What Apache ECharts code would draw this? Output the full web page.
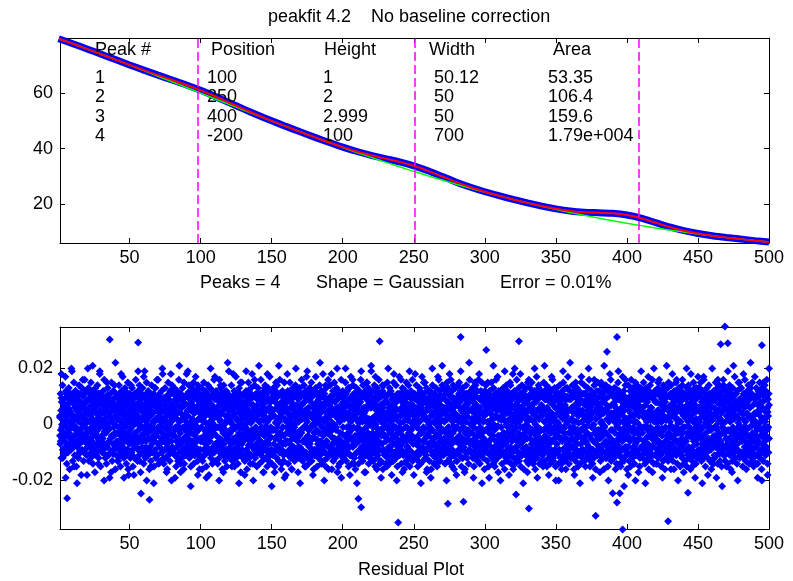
<!DOCTYPE html>
<html><head><meta charset="utf-8">
<script src="https://cdn.jsdelivr.net/npm/echarts@6/dist/echarts.min.js"></script>
<style>html,body{margin:0;padding:0;background:#fff}#c{width:793px;height:581px}</style>
</head><body><div id="c"></div>
<script>
// ---------- data ----------
const signalX = [0,10,20,30,40,50,60,70,80,90,100,110,120,130,140,150,160,170,180,190,200,210,220,230,240,250,260,270,280,290,300,310,320,330,340,350,360,370,380,390,400,410,420,430,440,450,460,470,480,490,500];
const signalY = [79.75,77.92,76.05,74.13,72.20,70.27,68.38,66.57,64.81,63.03,61.09,58.95,56.66,54.37,52.16,50.06,48.05,46.09,44.17,42.33,40.57,38.97,37.60,36.40,35.23,33.80,31.99,29.93,27.89,26.04,24.43,22.99,21.65,20.40,19.25,18.25,17.47,17.02,16.83,16.64,16.04,14.87,13.29,11.69,10.36,9.35,8.55,7.89,7.31,6.76,6.25];
const fitY = signalY;
const baselineY = [79.75,77.92,76.05,74.13,72.18,70.21,68.21,66.20,64.17,62.13,60.09,58.05,56.02,54.00,51.99,50.00,48.03,46.09,44.17,42.29,40.44,38.63,36.86,35.12,33.44,31.80,30.20,28.65,27.15,25.70,24.30,22.95,21.65,20.40,19.20,18.06,16.96,15.91,14.90,13.95,13.04,12.18,11.36,10.58,9.85,9.16,8.50,7.89,7.31,6.76,6.25];
const peakLinesX = [98, 250.5, 408];
const titleText = 'peakfit 4.2    No baseline correction';
const tableHeader = ['Peak #','Position','Height','Width','Area'];
const tableRows = [
  ['1','100','1','50.12','53.35'],
  ['2','250','2','50','106.4'],
  ['3','400','2.999','50','159.6'],
  ['4','-200','100','700','1.79e+004']
];
const fitInfo = ['Peaks = 4','Shape = Gaussian','Error = 0.01%'];
const residualLabel = 'Residual Plot';
// residuals, in units of 0.001
const residualCore = [
3,-7,11,-2,5,-12,8,0,-5,14,-9,2,6,-3,-11,9,1,-6,4,17,-8,12,-1,7,-14,3,10,-4,-10,6,-2,13,-7,5,-16,1,8,-5,11,-9,4,-1,19,-6,2,-13,9,0,-8,15,
-4,7,-11,2,12,-6,-1,9,-15,5,3,-8,10,-3,6,-12,1,14,-7,4,-2,11,-10,8,-5,-18,3,13,-9,0,6,-4,10,-13,2,7,-6,16,-1,-9,5,12,-3,8,-11,1,-7,4,20,-5,
9,-2,-13,6,1,-8,11,-5,3,15,-10,7,-1,-6,12,2,-14,8,-4,5,10,-9,0,-17,6,13,-3,4,-11,9,-7,1,14,-2,-5,7,-12,3,11,-8,18,-1,5,-15,2,-6,10,-4,8,-10,
1,-5,12,-9,4,-1,16,-7,8,2,-12,6,-3,10,-14,5,0,-8,13,-2,7,-11,3,-6,9,-19,4,11,-5,1,-10,15,-4,6,-13,2,8,-7,12,-1,-9,5,14,-3,0,-16,7,3,-11,10,
-6,10,2,-13,7,-3,5,-9,14,-1,11,-7,4,-15,8,1,-4,12,-10,6,-2,17,-8,3,9,-12,0,5,-6,13,-1,-11,7,2,-14,10,-5,4,-9,15,-3,8,-18,1,6,-7,11,-2,-12,3,
8,-1,-10,5,13,-6,2,-15,9,-4,7,0,-12,11,-3,4,-8,16,-7,1,10,-5,6,-13,3,12,-9,-2,8,-11,14,-6,1,5,-17,9,-4,2,11,-8,-1,13,-10,6,3,-14,7,-5,19,-3,
4,-12,9,-6,1,15,-3,-9,7,2,-11,12,-5,8,-1,-16,6,3,-8,10,-13,5,-2,14,-7,0,9,-10,4,-4,11,-15,7,1,-6,13,-9,2,-12,8,6,-3,16,-11,5,-1,-7,10,-14,3,
-2,11,-8,4,-13,7,1,-5,12,-10,6,-3,18,-6,2,9,-14,5,-1,-9,13,-4,8,-12,3,10,-7,1,-16,6,-2,15,-11,4,9,-6,0,-13,12,-3,7,-10,5,-20,2,14,-8,6,-4,11,
6,-9,3,13,-4,-11,8,-1,5,-15,10,-6,2,12,-8,4,-13,7,-2,16,-5,1,-10,9,-3,-17,11,4,-7,6,-12,2,13,-1,-9,8,-5,15,-14,3,7,-2,-11,10,-6,1,18,-4,-8,5,
-10,3,7,-5,14,-2,-12,9,0,-7,11,-15,5,-3,8,-9,13,2,-6,10,-1,-14,6,4,-11,12,-4,-8,17,-3,1,-10,9,-6,5,-13,14,-2,7,-9,2,11,-16,4,-5,8,-12,6,-1,13,
2,-6,10,-13,5,1,-9,15,-4,7,-11,3,12,-7,-2,9,-15,6,-5,11,0,-10,14,-3,4,-18,8,-6,1,13,-9,5,-12,10,-1,7,-4,-14,12,2,-8,6,-3,16,-10,4,9,-7,-1,-13,
12,-4,-8,6,-1,11,-14,3,9,-6,2,-12,16,-5,7,-10,1,13,-8,4,-2,10,-16,5,8,-3,-11,14,-7,0,6,-13,9,-2,3,-9,12,-5,-15,7,1,-4,11,-10,5,19,-6,2,-12,8,
-3,9,-11,1,14,-7,5,-2,-13,10,-5,7,-9,3,12,-15,4,-1,8,-10,17,-6,2,-8,11,-4,6,-14,9,1,-7,13,-3,-11,5,10,-1,-17,7,-5,3,15,-9,0,8,-12,4,-6,11,-2,
7,-13,4,10,-5,-1,12,-9,6,-16,2,8,-4,-10,15,-3,5,-12,11,-7,1,9,-6,13,-11,3,-2,18,-8,4,-14,7,-5,10,2,-9,14,-3,-12,6,-1,11,-7,4,-15,9,3,-10,13,-4,
-8,5,1,-14,9,-3,11,-6,16,-11,4,-1,7,-13,10,2,-8,6,-17,12,-4,3,-9,14,-2,-12,8,5,-6,11,-15,1,9,-3,13,-10,6,-7,2,17,-5,-11,8,-1,4,-9,12,-14,3,10,
5,-11,13,-2,-7,9,3,-15,8,-5,12,-9,1,6,-12,14,-4,-1,10,-8,5,-13,7,2,-10,16,-6,3,-3,11,-16,8,-9,4,12,-1,-7,10,-13,5,-4,15,-10,2,8,-6,-18,11,1,-3,
-1,8,-6,12,-14,4,-3,10,-9,2,15,-7,6,-12,1,9,-4,-16,11,-2,7,-10,13,3,-8,5,-1,-13,10,-5,14,-11,2,7,-3,-9,12,-6,4,-17,9,1,-12,6,-4,13,-8,3,-2,11,
10,-3,-9,7,2,-13,11,-6,4,-11,14,-1,8,-15,5,-5,12,-10,3,17,-7,1,-12,9,-4,6,-14,11,-2,-8,13,4,-6,-10,8,-1,15,-13,3,-5,10,-9,6,2,-16,12,-3,7,-11,0,
-5,13,-10,3,-2,8,-15,6,11,-7,1,-12,9,4,-8,14,-3,-11,7,2,-6,12,-14,5,-1,10,-9,18,-4,-13,6,-7,11,1,-10,8,-2,-15,13,-6,4,9,-12,2,-3,16,-8,5,-11,7,
3,-8,14,-4,9,-11,1,6,-16,10,-2,-7,12,-13,5,0,-9,15,-5,8,-12,3,11,-6,-1,13,-10,4,-17,9,2,-5,12,-8,6,-14,1,10,-3,-11,7,16,-6,3,-9,11,-13,5,-1,8,
-12,6,2,-9,11,-4,15,-7,3,-13,8,-1,-6,12,-10,4,9,-15,2,-3,13,-8,6,-11,1,17,-5,-2,10,-14,7,3,-8,14,-6,-1,11,-12,5,9,-4,-16,8,-7,2,13,-10,4,-5,12,
9,-1,-14,5,-6,12,-10,2,8,-3,16,-12,4,-8,11,-5,1,-13,14,-2,6,-9,10,-17,3,-4,12,-7,5,-11,9,-1,15,-6,-10,7,-3,13,-14,2,8,-5,-12,11,0,-8,6,19,-4,-9,
-7,12,-3,8,-13,1,6,-10,14,-5,3,-15,10,-1,-8,7,-12,5,13,-4,-11,9,2,-6,16,-9,4,-14,11,-2,7,-13,1,10,-7,5,-3,12,-16,6,-1,-9,14,3,-11,8,-4,10,-14,2,
4,-10,8,-5,15,-12,3,-1,11,-8,6,-14,13,-3,1,-9,12,-6,5,-18,9,-2,-11,7,4,-13,15,-7,2,-4,10,-10,6,-1,14,-12,8,-5,3,-15,11,-3,-8,9,1,-6,17,-11,5,-2,
-9,3,11,-14,6,-2,-7,13,-4,9,-11,1,7,-16,12,-5,4,-10,8,2,-13,15,-6,-1,10,-8,3,-12,14,-3,5,-9,11,-15,7,1,-6,12,-2,-10,9,-4,16,-13,4,-7,10,3,-11,6,
11,-5,2,-12,9,-7,14,-1,-10,6,3,-15,10,-4,8,-11,1,13,-6,-2,12,-14,5,-9,7,-3,17,-8,4,-13,9,-1,-6,11,-10,3,15,-5,-12,8,2,-9,13,-4,-16,6,1,-7,12,-3,
-4,8,-13,5,-1,12,-8,3,-16,10,-6,7,-2,14,-11,4,-5,9,-14,1,11,-7,6,-3,-12,13,-9,2,8,-15,5,-4,10,-1,-8,16,-10,3,-6,12,-13,7,1,-5,9,-11,4,14,-2,-9,
6,-2,-11,13,-5,1,9,-14,4,-8,12,-3,6,-10,15,-6,2,-13,8,-1,-9,11,-4,18,-12,5,-7,10,3,-14,7,-5,12,-9,1,-3,14,-11,6,-16,9,-2,4,-10,13,-6,2,-13,8,-1,
-13,7,3,-6,10,-9,1,15,-4,-11,8,-2,12,-7,5,-15,9,2,-5,13,-12,4,-1,10,-8,6,-17,11,-3,7,-10,1,14,-6,3,-12,9,-4,-2,11,-14,5,8,-9,16,-3,-7,12,0,-10,
2,10,-7,-3,13,-12,6,-1,9,-15,4,-5,11,-9,1,14,-6,-10,7,3,-13,12,-2,5,-8,16,-11,2,-4,9,-14,6,-1,12,-7,4,-10,15,-3,-6,8,-12,1,11,-5,3,-16,10,-8,5,
-6,14,-2,8,-10,4,-13,11,1,-7,6,-15,9,-3,12,-1,-11,7,4,-8,15,-5,2,-12,10,-4,6,-14,13,0,-9,8,-2,-13,11,3,-6,16,-10,5,-1,9,-12,7,-4,-17,12,2,-8,6,
8,-4,5,-11,12,-1,-8,10,-14,3,7,-6,13,-10,2,-3,11,-16,6,9,-7,1,-12,14,-5,4,-9,12,-1,-13,8,5,-4,10,-11,2,15,-8,-3,7,-14,11,1,-6,9,-10,18,-5,3,-12,
-2,-9,12,4,-14,7,-5,10,-1,-12,16,-6,3,8,-10,5,-3,13,-13,1,9,-7,11,-4,-15,6,2,-8,14,-11,4,-1,10,-6,7,-16,12,-3,5,-9,13,-2,-11,8,3,-13,10,-5,1,15,
5,-14,9,-1,7,-10,13,-5,2,-12,11,-3,-7,15,-9,6,-2,10,-13,4,1,-11,12,-6,8,-16,3,-4,11,-8,17,-12,5,-1,-10,9,-3,14,-7,2,-14,6,10,-5,-9,12,-2,7,-13,3,
-11,4,-6,10,-2,15,-9,1,12,-13,5,-4,9,-8,14,-1,-15,6,3,-10,11,-5,2,-12,13,-7,8,1,-14,10,-3,-9,12,-6,4,-11,16,-2,7,-13,1,9,-5,13,-10,-1,6,-15,11,-4,
13,-7,1,-10,6,-4,11,-14,8,-2,-9,14,-5,3,-12,10,-1,7,-16,5,-6,12,-9,2,15,-11,4,-3,9,-13,7,-1,-8,13,-5,3,-12,10,-7,1,17,-10,5,-3,-14,9,-6,12,-1,-8,
-3,9,-12,6,2,-8,14,-5,-11,10,-1,4,-16,12,-6,7,-3,-13,11,1,-9,5,13,-7,-2,10,-15,3,8,-10,12,-4,5,-14,9,-2,-7,15,-11,4,1,-12,8,-5,11,-9,3,-1,14,-13,
7,-1,-15,11,-6,3,9,-12,5,-3,13,-10,1,8,-8,16,-4,-11,6,2,-13,10,-5,12,-1,-9,7,-14,4,11,-6,0,-12,14,-3,8,-10,5,-16,9,2,-7,12,-4,-11,6,15,-2,-9,4,
-8,12,3,-5,10,-13,6,-2,15,-9,1,-12,8,-4,11,-7,4,-16,13,-1,5,-10,9,-6,14,-3,-12,7,2,-8,12,-15,6,-4,10,1,-11,13,-6,3,-9,16,-2,-13,7,4,-7,11,-10,2,
4,-6,11,-12,1,8,-3,13,-10,6,-7,2,-14,10,-1,5,-9,15,-5,3,-11,12,-4,-8,9,1,-15,11,-2,6,-12,8,-6,17,-9,3,-3,12,-13,5,10,-1,-8,14,-5,-11,7,2,-16,9,
-10,2,-4,14,-8,5,-13,9,1,-6,12,-15,4,-2,10,-10,7,3,-12,13,-5,-1,11,-9,6,-14,8,-3,15,-7,1,-11,10,4,-6,12,-2,-9,7,-17,11,3,-5,9,-12,6,-1,13,-8,5,
12,-8,6,-3,-12,9,-1,15,-6,4,-10,11,-14,2,7,-5,13,-9,1,-13,8,-2,10,-7,3,-16,12,-4,5,-10,14,-1,-8,6,-13,10,-5,2,16,-11,4,-3,9,-14,1,-7,12,-6,8,-2,
-5,11,-14,3,8,-9,5,-1,13,-12,2,-6,16,-8,4,-3,10,-11,7,-15,12,1,-4,9,-10,5,-13,14,-2,3,-7,11,-16,8,-1,6,-12,10,-4,2,-9,13,-6,5,-11,15,-3,-8,10,-1,
1,-12,7,-4,14,-10,3,-7,11,-1,-13,9,-5,6,-16,12,-2,8,-9,4,-1,15,-11,6,-6,10,-14,2,9,-3,-10,13,-7,5,-2,11,-15,7,1,-8,12,-5,4,-12,16,-3,9,-9,3,-14,
-9,6,-1,11,-13,4,9,-6,2,-15,13,-3,7,-10,1,14,-8,5,-12,10,-4,3,-16,12,-2,8,-9,6,-13,11,-5,1,-11,15,-6,4,-3,13,-10,7,-1,-14,9,2,-7,12,-12,5,-4,17,
6,-3,13,-9,1,-11,10,-5,15,-2,4,-13,8,-7,12,-1,-10,6,-4,16,-12,3,9,-8,2,-15,11,-3,5,-10,13,-6,7,-1,-12,9,-5,14,-9,1,10,-13,4,-6,11,-2,-16,8,3,-7,
-14,9,2,-7,12,-4,6,-12,10,-1,-8,15,-5,3,-11,8,-2,13,-14,5,-6,11,1,-9,14,-4,7,-13,2,10,-7,4,-15,12,-1,-10,8,-3,16,-11,5,-2,13,-8,6,-13,1,9,-5,12,
3,-7,10,-14,5,-2,12,-9,6,-5,14,-11,1,9,-16,7,-3,11,-8,4,-13,13,-1,-6,10,-10,5,-4,17,-12,8,-2,-9,11,-5,3,-14,12,-7,6,-1,15,-10,2,-4,9,-12,7,-3,13,
-1,13,-10,4,-5,9,-15,7,2,-12,11,-3,6,-8,16,-6,1,-13,10,-2,8,-11,4,12,-9,-4,14,-7,3,-14,9,-1,6,-10,13,-5,2,-12,11,-8,15,-3,-9,7,1,-15,10,-6,4,-11,
9,-5,1,-11,13,-8,4,-2,10,-14,7,-6,12,-1,-10,5,15,-12,3,-4,11,-9,6,-16,2,13,-7,8,-3,-13,10,-1,5,-9,14,-6,1,-11,12,-4,-8,16,-2,6,-14,9,3,-10,11,-5
];
const residualDense = [
2.5,-6,9.5,-1,4,-10.5,7,0.5,-4,11,-8.5,1,5.5,-3,-9,8.5,-0.5,-6.5,3,10,-7.5,6,-2,9,-11,2,4.5,-5,-9.5,7.5,-1.5,10.5,-6,3.5,-10,0,8,-4.5,11.5,-8,5,-2.5,9,-7,1.5,-11.5,6.5,-3.5,-8,10,
-3.5,7,-10,2,11,-5.5,-0.5,8.5,-9,4.5,1,-7,9.5,-2.5,5,-11,0,10.5,-6.5,3,-1.5,8,-9.5,6.5,-4,-10.5,2.5,11.5,-8,-0.5,5.5,-3,9,-11.5,1.5,7,-5,10,-2,-8.5,4,11,-3.5,7.5,-10,0.5,-6,3.5,9,-4.5,
8,-1,-11,5.5,0,-7.5,10,-4,2.5,11,-9,6,-0.5,-5.5,9.5,1.5,-10.5,7,-3,4.5,10.5,-8,0,-9.5,5,11.5,-2.5,3,-10,8.5,-6,1,10,-1.5,-4.5,6.5,-11,2,9,-7,8.5,-0.5,4,-10,1,-5,9.5,-3.5,7,-9,
0.5,-4.5,10.5,-8.5,3.5,-1,11,-6,7.5,1.5,-10,5,-2,9,-11.5,4,-0.5,-7,11,-1.5,6,-9.5,2,-5.5,8,-10,3.5,10,-4,0,-9,11.5,-3,5.5,-11,1,7,-6.5,10.5,-0.5,-8,4.5,9.5,-2.5,-1,-10.5,6,2.5,-9,8.5,
-5,9,1.5,-11,6,-2.5,4,-8,10.5,-0.5,9,-6,3,-10.5,7,0.5,-3.5,10,-9,5,-1,11,-7,2.5,8,-10,-0.5,4.5,-5.5,11.5,-1,-9.5,6.5,1,-11,9,-4,3.5,-8.5,10,-2,7,-10,0,5.5,-6,10.5,-1.5,-11.5,2,
7,-0.5,-9,4,11,-5,1.5,-10.5,8,-3.5,6,0,-11,10,-2,3.5,-7.5,11.5,-6,0.5,9.5,-4,5,-11,2,10.5,-8,-1.5,7,-9.5,11,-5.5,1,4,-10,8,-3,1.5,10,-7,-0.5,11,-9,5.5,2,-10.5,6,-4.5,9,-2,
3,-10,8.5,-5,0.5,11,-2.5,-8,6,1,-9.5,10.5,-4,7,-1,-11,5.5,2,-7,9,-10.5,4,-1.5,11.5,-6,0,8,-9,3.5,-3.5,10,-11,6.5,0.5,-5,11,-8,1.5,-10,7,5,-2,10.5,-9.5,4.5,-0.5,-6,9.5,-11.5,2.5,
-1.5,10,-7,3,-11,6.5,0,-4.5,11,-9,5,-2.5,10.5,-5.5,1.5,8,-10.5,4,-0.5,-8.5,11.5,-3,7,-10,2.5,9,-6,0.5,-11,5,-1,10,-9.5,3.5,8.5,-5,0,-11.5,11,-2,6,-9,4.5,-7.5,1,10.5,-7,5.5,-3.5,9.5,
5,-8,2.5,11,-3.5,-10,7,-0.5,4,-11,9,-5,1.5,10.5,-7,3,-10.5,6,-1.5,11,-4,0.5,-9,8,-2.5,-11.5,10,3.5,-6,5,-10,1,11,-0.5,-8,7,-4.5,10,-11,2,6.5,-1,-9.5,9,-5,0,11.5,-3,-7,4.5,
-9,2,6,-4,11.5,-1.5,-10,8,0,-6,10,-11,4.5,-2,7,-8,11,1.5,-5,9,-0.5,-11,5,3,-9.5,10.5,-3,-7,11,-2.5,0.5,-9,8,-5,4,-10.5,11,-1,6,-8,1.5,10,-11.5,3.5,-4,7.5,-10,5,-0.5,10.5,
1.5,-5,9,-10.5,4,0.5,-8,11,-3,6,-9.5,2,10,-6,-1.5,8,-11,5,-4,9.5,0,-9,11.5,-2,3,-10,7,-5,0.5,10.5,-8,4,-10,9,-0.5,6,-3,-11,10,1.5,-7,5,-2.5,11,-9,3,8,-6,-1,-10.5,
10,-3,-7,5,-0.5,9.5,-11,2,8,-5,1.5,-10,11,-4,6,-9,0.5,10.5,-7,3,-1.5,9,-11.5,4,7,-2.5,-9.5,11,-6,0,5,-10.5,8,-1,2.5,-8,10,-4,-11,6,1,-3.5,9.5,-9,4,11.5,-5,1.5,-10,7,
-2,8,-9.5,0.5,11,-6,4,-1.5,-10.5,9,-4,6,-8,2.5,10,-11,3,-0.5,7,-9,11,-5,1.5,-7,9.5,-3,5,-11,8,0,-6,10.5,-2.5,-9.5,4,8.5,-0.5,-11.5,6,-4,2,11,-8,0.5,7,-10,3,-5,9,-1,
6,-10,3,8.5,-4,-0.5,10,-8,5,-11,1.5,7,-3,-9,11,-2,4,-10,9.5,-6,0,8,-5,10.5,-9.5,2,-1.5,11,-7,3.5,-11,6,-4.5,9,1,-8,10.5,-2,-10,5,-0.5,9,-6,3,-11.5,8,2.5,-9,10,-3.5,
-7,4,0.5,-11,8,-2,9.5,-5,11,-9,3,-0.5,6,-10.5,9,1,-7,5,-11,10,-3,2,-8,11.5,-1.5,-10,7,4,-5,9,-11,0.5,8,-2.5,10.5,-9,5,-6,1.5,11,-4,-10,7,-0.5,3.5,-8,10,-11,2,9,
4,-9,10.5,-1.5,-6,8,2.5,-11,7,-4,10,-8,0.5,5,-10,11,-3,-0.5,9,-7,4.5,-10.5,6,1.5,-9,11.5,-5,2,-2,10,-11,7,-8,3,10.5,-0.5,-6,9,-10,4,-3,11,-9,1,7,-5,-11.5,9.5,0.5,-2.5,
-0.5,7,-5,10,-11,3,-2.5,9,-8,1,11,-6,5,-10,0.5,8,-3.5,-11,10,-1,6,-9,11,2.5,-7,4,-0.5,-10.5,9,-4,11.5,-9.5,1.5,6,-2,-8,10,-5,3.5,-11,8,0.5,-10,5,-3,10.5,-7,2,-1.5,9,
9,-2,-8,6,1.5,-10,10,-5,3,-9,11,-0.5,7,-11,4,-4,10.5,-8.5,2,11,-6,0.5,-10,8,-3,5,-11,9.5,-1,-7,10,3.5,-5,-9,7,-0.5,11,-10.5,2.5,-4,9,-8,5,1,-11,10,-2,6,-9.5,0,
-4,11,-9,2.5,-1.5,7,-11,5,9.5,-6,0.5,-10,8,3,-7,10.5,-2,-9,6,1.5,-5,10,-11,4,-0.5,8.5,-8,11,-3,-10.5,5,-6,9,0.5,-9,7,-1.5,-11,10.5,-5,3,8,-10,1.5,-2.5,11,-7,4,-9,6,
2,-7,11,-3.5,8,-9,0.5,5,-11,8.5,-1.5,-6,10,-10,4,-0.5,-8,11,-4,7,-10.5,2.5,9,-5,-0.5,10,-9,3,-11.5,7.5,1,-4,10.5,-7,5,-11,0.5,8,-2,-9.5,6,11,-5,2,-8,9,-10,4.5,-1,7
];
const residualWide = [
-4,18,-12,6,-19,3,10,-7,20,-1,-15,12,-21,5,8,-3,16,-10,2,-18,13,-6,4,21,-9,-2,11,-14,19,-5,7,-20,1,15,-11,3,-17,9,-4,22,-8,-13,6,18,-3,-19,12,2,-16,10,
14,-9,-18,7,2,19,-13,5,-6,17,-2,-20,11,3,-15,8,-21,13,-4,16,-7,1,20,-12,6,-17,9,-1,18,-10,4,-19,12,-5,21,-14,2,-16,10,-8,19,-3,-22,7,15,-11,5,-18,13,-6,
-16,11,3,-19,8,-6,20,-2,-13,17,-9,5,-20,14,1,-17,10,-4,22,-11,6,-15,18,-1,-12,9,-21,15,-7,3,-18,19,-5,12,-14,7,-20,16,-3,-10,21,-8,4,-17,13,-2,18,-13,8,-22,
5,-17,15,-8,21,-3,-14,10,-19,6,18,-11,2,-16,13,-5,20,-9,1,-21,16,-6,8,-15,19,-2,-12,11,-18,4,17,-10,-3,22,-13,7,-20,14,-1,-16,9,18,-7,-11,3,20,-15,6,-19,12,
-11,20,-5,13,-18,2,16,-14,9,-21,7,-3,19,-12,4,-17,15,-8,1,21,-10,-6,17,-16,11,-2,-19,14,-4,8,-15,20,-9,3,-13,18,-7,-20,10,-1,16,-17,5,12,-14,-4,19,-11,7,-18,
18,-6,-13,10,-21,4,15,-9,-17,12,1,-19,20,-5,8,-14,17,-2,-11,21,-8,6,-20,13,-3,16,-15,9,-1,-18,14,-7,19,-12,2,-16,11,-4,22,-10,5,-19,15,-6,-13,18,-2,-21,9,12,
-2,15,-19,8,-10,21,-15,3,17,-7,-20,12,-4,19,-13,6,-18,14,-1,-16,20,-9,5,-12,18,-5,-21,10,2,-17,16,-11,7,-14,20,-3,-19,13,-8,4,-15,21,-6,11,-18,1,17,-12,9,-20,
10,-20,6,-14,19,-3,-16,13,-9,22,-5,1,-18,15,-11,7,-21,17,-2,-13,11,-7,20,-15,4,-19,16,-10,8,-4,-17,14,-1,21,-12,5,-20,18,-6,-9,13,-16,3,19,-14,9,-3,-22,16,-8,
-18,7,16,-11,3,-20,14,-5,-15,19,-8,11,-21,2,17,-12,6,-17,20,-4,-14,15,-9,1,-19,12,-6,21,-13,5,-16,18,-2,-10,16,-20,9,-7,14,-17,3,20,-11,-1,18,-15,7,-19,13,-5,
13,-4,-21,17,-10,6,-18,11,-1,20,-14,4,-19,16,-7,9,-22,14,-3,-15,19,-8,2,-17,21,-12,7,-20,15,-5,-11,18,-2,-16,12,-9,22,-6,-13,17,-1,-19,10,5,-20,15,-10,3,-18,20
];
const outlierX = [36,56,226,283,324,393,469,466,471,495,301,386,6,64,58,213,239,211,274,285,331,378,397,429,393,390,395,443,322];
const outlierY = [30.3,29.3,29.7,31.2,29.7,31.2,35,28.6,29,28.3,26.6,26,-26.3,-26.9,-24.6,-29.5,-35,-26.5,-28.3,-27.6,-30,-32.6,-37.5,-34.5,-27.8,-24.5,-24.5,-24.4,-25];

// ---------- chart ----------
const FONT = '"Liberation Sans", Arial, sans-serif';
const X_MIN = 1, X_MAX = 500;
function gridPoints(vals) {
  const step = (X_MAX - X_MIN) / (vals.length - 1);
  return vals.map((v, i) => [X_MIN + i * step, v / 1000]);
}
const residualPoints = gridPoints(residualCore)
  .concat(gridPoints(residualDense))
  .concat(gridPoints(residualWide))
  .concat(outlierX.map((x, i) => [x, outlierY[i] / 1000]));

const axisLineStyle = { show: true, onZero: false, lineStyle: { color: '#000', width: 1 } };
const tickIn = { show: true, inside: true, length: 5, lineStyle: { color: '#000' } };
const lbl = { color: '#000', fontSize: 18, fontFamily: FONT, showMinLabel: false };
function xAx(grid, top, lims) {
  return Object.assign({
    type: 'value', gridIndex: grid, position: top ? 'top' : 'bottom',
    splitNumber: 10, axisLine: axisLineStyle, axisTick: tickIn, splitLine: { show: false },
    axisLabel: top ? { show: false } : Object.assign({ margin: 6, showMaxLabel: true }, lbl)
  }, lims);
}
function yAx(grid, right, lims, split) {
  return Object.assign({
    type: 'value', gridIndex: grid, position: right ? 'right' : 'left',
    splitNumber: split, axisLine: axisLineStyle, axisTick: tickIn, splitLine: { show: false },
    axisLabel: right ? { show: false } : Object.assign({ margin: 7, showMaxLabel: false }, lbl)
  }, lims);
}
const topX = { min: X_MIN, max: X_MAX };
const topY = { min: 5.9, max: 80 };
const botY = { min: -0.0373, max: 0.0348 };

const graphics = [];
function txt(x, y, text, align) {
  graphics.push({ type: 'text', x: x, y: y, z: 100,
    style: { text: text, fill: '#000', font: '18px ' + FONT, align: align || 'left', verticalAlign: 'middle' } });
}
txt(268, 17, titleText);
const headX = [95, 211, 324, 429, 553];
const cellX = [95, 207, 323, 434, 548];
const rowY = [78, 97.5, 117, 136];
tableHeader.forEach((h, i) => txt(headX[i], 50, h));
tableRows.forEach((r, j) => r.forEach((c, i) => txt(cellX[i], rowY[j], c)));
const infoX = [200, 316, 500];
fitInfo.forEach((t, i) => txt(infoX[i], 283, t));
txt(411, 570, residualLabel, 'center');

const chart = echarts.init(document.getElementById('c'), null, { renderer: 'canvas' });
chart.setOption({
  animation: false,
  backgroundColor: '#fff',
  grid: [
    { left: 60, top: 38, right: 24, height: 205 },
    { left: 60, top: 327, right: 24, height: 202 }
  ],
  xAxis: [ xAx(0, false, topX), xAx(0, true, topX), xAx(1, false, topX), xAx(1, true, topX) ],
  yAxis: [ yAx(0, false, topY, 4), yAx(0, true, topY, 4), yAx(1, false, botY, 3), yAx(1, true, botY, 3) ],
  graphic: graphics,
  series: [
    { type: 'line', xAxisIndex: 0, yAxisIndex: 0, data: [], z: 1, silent: true,
      markLine: { silent: true, symbol: ['none', 'none'], label: { show: false },
        lineStyle: { color: '#ff00ff', type: [9, 4], width: 1.5 },
        data: peakLinesX.map(v => ({ xAxis: v })) } },
    { type: 'line', xAxisIndex: 0, yAxisIndex: 0, z: 2, clip: false, smooth: 0.3, showSymbol: false,
      data: signalX.map((x, i) => [x, signalY[i]]), lineStyle: { color: '#0000ff', width: 7 } },
    { type: 'line', xAxisIndex: 0, yAxisIndex: 0, z: 3, smooth: 0.3, showSymbol: false,
      data: signalX.map((x, i) => [x, baselineY[i]]), lineStyle: { color: '#00ff00', width: 1.5 } },
    { type: 'line', xAxisIndex: 0, yAxisIndex: 0, z: 4, smooth: 0.3, showSymbol: false,
      data: signalX.map((x, i) => [x, fitY[i]]), lineStyle: { color: '#ff0000', width: 2 } },
    { type: 'scatter', xAxisIndex: 2, yAxisIndex: 2, clip: false, progressive: 0, z: 2,
      symbol: 'diamond', symbolSize: 8, itemStyle: { color: '#0000ff', opacity: 1 },
      data: residualPoints }
  ]
});
</script>
</body></html>
